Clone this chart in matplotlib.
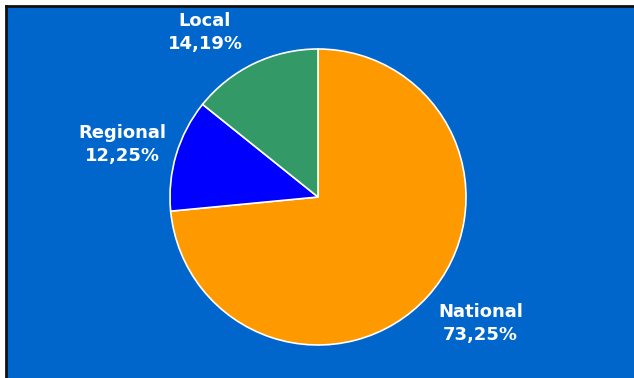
import numpy as np
import matplotlib
matplotlib.use("Agg")
import matplotlib.pyplot as plt

# chart data
labels = ['National', 'Regional', 'Local']
shares = [73.25, 12.25, 14.19]
colors = ['#FF9900', '#0000FF', '#339966']

bg = '#0066CC'

fig = plt.figure(figsize=(6.34, 3.78), dpi=100)
fig.patch.set_facecolor('white')

# axes in pixel-like units: x 6..634, y 0..372 (bottom up)
ax = fig.add_axes([6 / 634, 0, 628 / 634, 372 / 378])
ax.set_facecolor(bg)

cx, cy, r = 318, 181, 148
wedges, _ = ax.pie(shares, colors=colors, startangle=90, counterclock=False,
                   center=(cx, cy), radius=r, frame=True,
                   wedgeprops=dict(edgecolor='white', linewidth=1.2))

ax.set_xlim(6, 634)
ax.set_ylim(0, 372)
ax.set_aspect('equal')
ax.set_xticks([])
ax.set_yticks([])
ax.spines['right'].set_visible(False)
ax.spines['bottom'].set_visible(False)
ax.spines['top'].set_color('#111111')
ax.spines['left'].set_color('#111111')
ax.spines['top'].set_linewidth(2)
ax.spines['left'].set_linewidth(2)

# label placement: nudge angle (deg) and distance (in radii)
nudge = [4.4, 1.7, 8.8]
dist = [1.39, 1.37, 1.35]
for w, lab, val, dn, d in zip(wedges, labels, shares, nudge, dist):
    mid = np.deg2rad((w.theta1 + w.theta2) / 2 + dn)
    tx = cx + d * r * np.cos(mid)
    ty = cy + d * r * np.sin(mid)
    txt = lab + '\n' + ('%.2f%%' % val).replace('.', ',')
    ax.text(tx, ty, txt, ha='center', va='center', color='white',
            fontsize=13, fontweight='bold', linespacing=1.35,
            family='DejaVu Sans')

fig.savefig('out.png', dpi=100, facecolor=fig.get_facecolor())
